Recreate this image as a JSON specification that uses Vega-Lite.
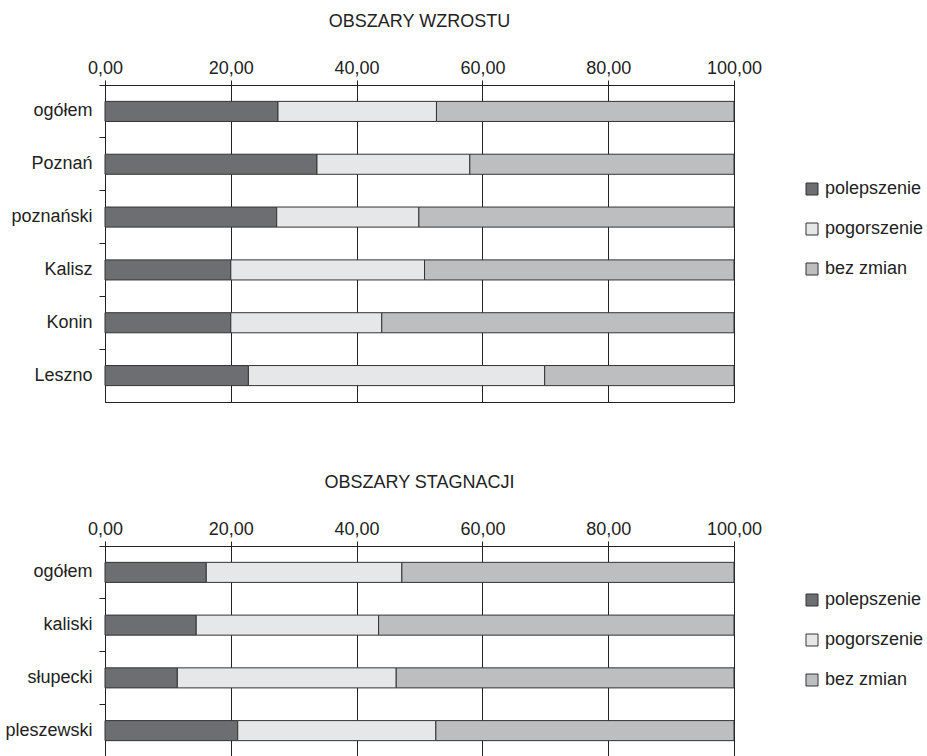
{
  "$schema": "https://vega.github.io/schema/vega-lite/v6.json",
  "padding": {"left": 4, "top": 12, "right": 0, "bottom": 0},
  "background": "white",
  "bounds": "flush",
  "spacing": 144,
  "config": {
    "font": "Liberation Sans",
    "view": {"stroke": "#222", "strokeWidth": 1},
    "axis": {"labelFont": "Liberation Sans", "labelFontSize": 18, "labelColor": "#222", "domainColor": "#222", "tickColor": "#222", "gridColor": "#222", "gridOpacity": 1, "title": null},
    "title": {"font": "Liberation Sans", "fontSize": 18, "fontWeight": "normal", "color": "#222", "anchor": "middle", "offset": 28},
    "legend": {"title": null, "orient": "none", "symbolType": "square", "symbolSize": 144, "symbolStrokeColor": "#333", "symbolStrokeWidth": 1, "labelFont": "Liberation Sans", "labelFontSize": 18, "labelColor": "#222", "rowPadding": 22, "labelOffset": 4, "padding": 0}
  },
  "datasets": {
    "w": [
      {"obszar": "ogółem", "typ": "polepszenie", "v": 27.5},
      {"obszar": "ogółem", "typ": "pogorszenie", "v": 25.2},
      {"obszar": "ogółem", "typ": "bez zmian", "v": 47.3},
      {"obszar": "Poznań", "typ": "polepszenie", "v": 33.7},
      {"obszar": "Poznań", "typ": "pogorszenie", "v": 24.3},
      {"obszar": "Poznań", "typ": "bez zmian", "v": 42.0},
      {"obszar": "poznański", "typ": "polepszenie", "v": 27.3},
      {"obszar": "poznański", "typ": "pogorszenie", "v": 22.6},
      {"obszar": "poznański", "typ": "bez zmian", "v": 50.1},
      {"obszar": "Kalisz", "typ": "polepszenie", "v": 20.0},
      {"obszar": "Kalisz", "typ": "pogorszenie", "v": 30.8},
      {"obszar": "Kalisz", "typ": "bez zmian", "v": 49.2},
      {"obszar": "Konin", "typ": "polepszenie", "v": 20.0},
      {"obszar": "Konin", "typ": "pogorszenie", "v": 24.0},
      {"obszar": "Konin", "typ": "bez zmian", "v": 56.0},
      {"obszar": "Leszno", "typ": "polepszenie", "v": 22.8},
      {"obszar": "Leszno", "typ": "pogorszenie", "v": 47.1},
      {"obszar": "Leszno", "typ": "bez zmian", "v": 30.1}
    ],
    "s": [
      {"obszar": "ogółem", "typ": "polepszenie", "v": 16.1},
      {"obszar": "ogółem", "typ": "pogorszenie", "v": 31.1},
      {"obszar": "ogółem", "typ": "bez zmian", "v": 52.8},
      {"obszar": "kaliski", "typ": "polepszenie", "v": 14.5},
      {"obszar": "kaliski", "typ": "pogorszenie", "v": 29.0},
      {"obszar": "kaliski", "typ": "bez zmian", "v": 56.5},
      {"obszar": "słupecki", "typ": "polepszenie", "v": 11.5},
      {"obszar": "słupecki", "typ": "pogorszenie", "v": 34.8},
      {"obszar": "słupecki", "typ": "bez zmian", "v": 53.7},
      {"obszar": "pleszewski", "typ": "polepszenie", "v": 21.1},
      {"obszar": "pleszewski", "typ": "pogorszenie", "v": 31.5},
      {"obszar": "pleszewski", "typ": "bez zmian", "v": 47.4}
    ]
  },
  "resolve": {"scale": {"color": "independent"}, "legend": {"color": "independent"}},
  "vconcat": [
    {
      "title": "OBSZARY WZROSTU",
      "width": 629,
      "height": 317,
      "data": {"name": "w"},
      "transform": [{"calculate": "indexof(['polepszenie','pogorszenie','bez zmian'], datum.typ)", "as": "k"}],
      "mark": {"type": "bar", "height": {"band": 0.38}, "stroke": "#333", "strokeWidth": 1},
      "encoding": {
        "y": {"field": "obszar", "type": "nominal", "sort": ["ogółem", "Poznań", "poznański", "Kalisz", "Konin", "Leszno"], "scale": {"paddingInner": 0, "paddingOuter": 0}, "axis": {"ticks": true, "tickSize": 6, "bandPosition": 0, "labelPadding": 7, "domain": true, "grid": false}},
        "x": {"field": "v", "type": "quantitative", "stack": "zero", "scale": {"domain": [0, 100], "nice": false}, "axis": {"orient": "top", "values": [0, 20, 40, 60, 80, 100], "labelExpr": "replace(format(datum.value,'.2f'),'.',',')", "tickSize": 5, "labelPadding": 3, "grid": true, "labelFlush": false}},
        "color": {"field": "typ", "type": "nominal", "scale": {"domain": ["polepszenie", "pogorszenie", "bez zmian"], "range": ["#6d6e71", "#e6e7e8", "#bcbec0"]}, "legend": {"legendX": 698, "legendY": 95}},
        "order": {"field": "k", "type": "quantitative"}
      }
    },
    {
      "title": "OBSZARY STAGNACJI",
      "width": 629,
      "height": 211,
      "data": {"name": "s"},
      "transform": [{"calculate": "indexof(['polepszenie','pogorszenie','bez zmian'], datum.typ)", "as": "k"}],
      "mark": {"type": "bar", "height": {"band": 0.38}, "stroke": "#333", "strokeWidth": 1},
      "encoding": {
        "y": {"field": "obszar", "type": "nominal", "sort": ["ogółem", "kaliski", "słupecki", "pleszewski"], "scale": {"paddingInner": 0, "paddingOuter": 0}, "axis": {"ticks": true, "tickSize": 6, "bandPosition": 0, "labelPadding": 7, "domain": true, "grid": false}},
        "x": {"field": "v", "type": "quantitative", "stack": "zero", "scale": {"domain": [0, 100], "nice": false}, "axis": {"orient": "top", "values": [0, 20, 40, 60, 80, 100], "labelExpr": "replace(format(datum.value,'.2f'),'.',',')", "tickSize": 5, "labelPadding": 3, "grid": true, "labelFlush": false}},
        "color": {"field": "typ", "type": "nominal", "scale": {"domain": ["polepszenie", "pogorszenie", "bez zmian"], "range": ["#6d6e71", "#e6e7e8", "#bcbec0"]}, "legend": {"legendX": 698, "legendY": 45}},
        "order": {"field": "k", "type": "quantitative"}
      }
    }
  ]
}
